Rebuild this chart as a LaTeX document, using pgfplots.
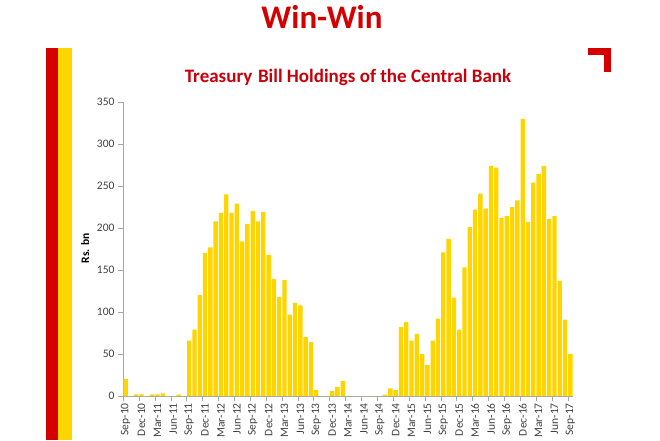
\documentclass[border=0pt]{standalone}
\usepackage{pgfplots}
\pgfplotsset{compat=1.18}
\usepackage{fontspec}
\setmainfont{Carlito}
\definecolor{tbred}{HTML}{D40000}
\definecolor{titlered}{HTML}{C8000A}
\definecolor{tbyellow}{HTML}{FFD500}
\definecolor{axgray}{HTML}{A6A6A6}
\definecolor{lblgray}{HTML}{404040}

\begin{document}
\begin{tikzpicture}[x=1pt,y=1pt]
\useasboundingbox (0,0) rectangle (660,440);
% slide decorations
\fill[tbred] (46,0) rectangle (58,392);
\fill[tbyellow] (58,0) rectangle (72,392);
\fill[tbred] (588,385) rectangle (611,392);
\fill[tbred] (604,368) rectangle (611,392);
\node[font=\fontsize{33}{35}\selectfont\bfseries, text=tbred] at (322,423) {Win-Win};
\node[font=\fontsize{19}{21}\selectfont\bfseries, text=titlered] at (348,363) {Treasury\hspace{0.3em}Bill Holdings of the Central Bank};

\begin{axis}[
    at={(123pt,44pt)}, anchor=south west,
    scale only axis, width=450pt, height=294pt,
    ybar, bar width=0.82, bar shift=0pt,
    xmin=-0.5, xmax=84.5, ymin=0, ymax=350,
    axis x line*=bottom, axis y line*=left,
    axis line style={axgray},
    ytick={0,50,...,350},
    xtick={0,3,...,84},
    xticklabels={Sep-10,Dec-10,Mar-11,Jun-11,Sep-11,Dec-11,Mar-12,Jun-12,Sep-12,Dec-12,
        Mar-13,Jun-13,Sep-13,Dec-13,Mar-14,Jun-14,Sep-14,Dec-14,Mar-15,Jun-15,
        Sep-15,Dec-15,Mar-16,Jun-16,Sep-16,Dec-16,Mar-17,Jun-17,Sep-17},
    minor xtick={-0.5,2.5,...,83.5},
    major x tick style={draw=none},
    minor x tick style={axgray},
    y tick style={axgray},
    tick align=outside,
    major tick length=5pt, minor tick length=5pt,
    /pgf/number format/assume math mode=true,
    xticklabel style={rotate=90, anchor=east, font=\fontsize{11.5}{12}\selectfont, text=lblgray, inner sep=2pt},
    yticklabel style={font=\fontsize{11.5}{12}\selectfont, text=lblgray},
    ylabel={Rs. bn},
    ylabel style={at={(axis description cs:-0.084,0.503)}, anchor=center, font=\fontsize{11.5}{13}\selectfont\bfseries, text=black},
]
\addplot[fill=tbyellow, draw=none] coordinates {
(0,20) (1,0) (2,2) (3,2) (4,0) (5,2) (6,2) (7,3) (8,0) (9,0)
(10,1.5) (11,0) (12,66) (13,79) (14,120) (15,170) (16,177) (17,208) (18,218) (19,240)
(20,218) (21,229) (22,184) (23,205) (24,220) (25,208) (26,219) (27,168) (28,139) (29,118)
(30,138) (31,97) (32,111) (33,108) (34,70) (35,64) (36,7) (37,0) (38,0) (39,6)
(40,11) (41,18) (42,0) (43,0) (44,0) (45,0) (46,0) (47,0) (48,0) (49,1.5)
(50,9) (51,7) (52,82) (53,88) (54,66) (55,74) (56,50) (57,37) (58,66) (59,92)
(60,171) (61,187) (62,117) (63,79) (64,153) (65,201) (66,222) (67,241) (68,223) (69,274)
(70,272) (71,212) (72,214) (73,225) (74,233) (75,330) (76,207) (77,254) (78,264) (79,274)
(80,211) (81,214) (82,137) (83,91) (84,50)
};
\end{axis}
\end{tikzpicture}
\end{document}
